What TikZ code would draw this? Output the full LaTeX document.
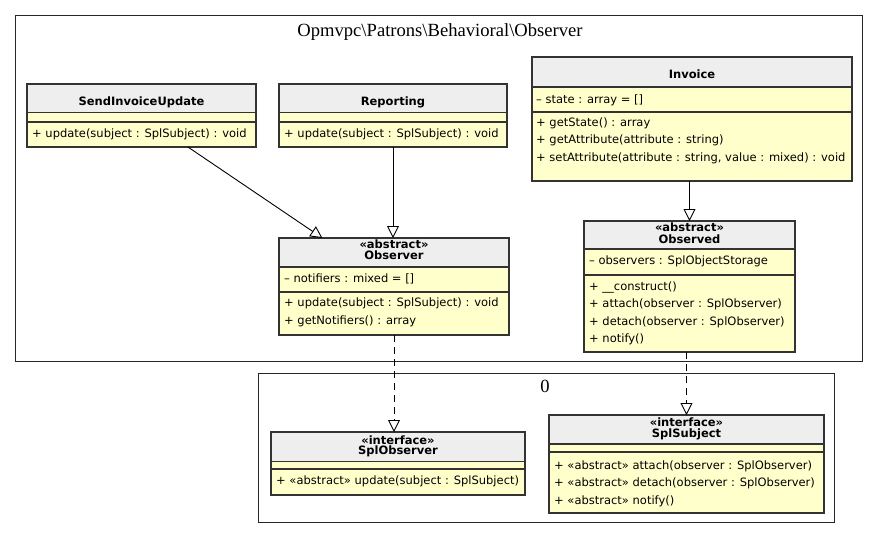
\documentclass[tikz,border=0pt]{standalone}
\usepackage{fontspec}
\usetikzlibrary{arrows.meta}
\newfontfamily\umlfont{DejaVu Sans}
\newfontfamily\pkgfont{Liberation Serif}
\definecolor{hdrgray}{HTML}{EEEEEE}
\definecolor{bodyyellow}{HTML}{FFFFCC}
\definecolor{borderdark}{HTML}{333333}
\tikzset{
  hdrpart/.style={draw=borderdark, line width=1.4pt, fill=hdrgray, inner sep=0pt, outer sep=0pt},
  bodypart/.style={draw=borderdark, line width=1.4pt, fill=bodyyellow, inner sep=0pt, outer sep=0pt},
  classoutline/.style={draw=borderdark, line width=1.4pt, inner sep=0pt, outer sep=0pt},
  pkgbox/.style={draw=black!85, line width=1pt, inner sep=0pt, outer sep=0pt},
  pkgtitle/.style={font=\pkgfont\fontsize{18.6}{20}\selectfont, inner sep=0pt, anchor=base},
  member/.style={font=\umlfont\fontsize{11.5}{13}\selectfont, inner sep=0pt, anchor=west, text height=8.5pt, text depth=2.5pt},
  clsname/.style={font=\umlfont\bfseries\fontsize{11.5}{13}\selectfont, inner sep=0pt, anchor=center, text height=8.5pt, text depth=2.5pt},
  generalize/.style={draw=black, line width=0.9pt, -{Triangle[open, length=12pt, width=12pt]}},
  realize/.style={generalize, dash pattern=on 7pt off 5pt}
}
\newcommand\umlbox[7]{%
  \pgfmathsetmacro\ubw{#3-#2}%
  \pgfmathsetmacro\ubcx{(#2+#3)/2}%
  \pgfmathsetmacro\ubha{#5-#4}\pgfmathsetmacro\ubya{(#4+#5)/2}%
  \pgfmathsetmacro\ubhb{#6-#5}\pgfmathsetmacro\ubyb{(#5+#6)/2}%
  \pgfmathsetmacro\ubhc{#7-#6}\pgfmathsetmacro\ubyc{(#6+#7)/2}%
  \pgfmathsetmacro\ubhd{#7-#4}\pgfmathsetmacro\ubyd{(#4+#7)/2}%
  \node[hdrpart, minimum width=\ubw pt, minimum height=\ubha pt] (#1-h) at (\ubcx,\ubya) {};
  \node[bodypart, minimum width=\ubw pt, minimum height=\ubhb pt] (#1-a) at (\ubcx,\ubyb) {};
  \node[bodypart, minimum width=\ubw pt, minimum height=\ubhc pt] (#1-m) at (\ubcx,\ubyc) {};
  \node[classoutline, minimum width=\ubw pt, minimum height=\ubhd pt] (#1) at (\ubcx,\ubyd) {};
}
\begin{document}
\begin{tikzpicture}[x=1pt, y=-1pt]
\useasboundingbox[fill=white] (0,0) rectangle (879,539);

% packages
\node[pkgbox, minimum width=847pt, minimum height=346pt] (pkgmain) at (438.5,188) {};
\node[pkgtitle] (pkgmaintitle) at (440,36.7) {Opmvpc\textbackslash Patrons\textbackslash Behavioral\textbackslash Observer};
\node[pkgbox, minimum width=576pt, minimum height=149pt] (pkgzero) at (546,447.5) {};
\node[pkgtitle] (pkgzerotitle) at (545,392.5) {0};

% SendInvoiceUpdate
\umlbox{sendinv}{27}{256}{84}{112.5}{122}{147}
\node[clsname] (sendinv-n) at (141.5,102.5) {SendInvoiceUpdate};
\node[member] (sendinv-m1) at (32,134) {+ update(subject : SplSubject) : void};

% Reporting
\umlbox{reporting}{279}{507}{84}{112.5}{122}{147}
\node[clsname] (reporting-n) at (393,102.5) {Reporting};
\node[member] (reporting-m1) at (284,134) {+ update(subject : SplSubject) : void};

% Invoice
\umlbox{invoice}{532}{852}{57}{87}{112}{181}
\node[clsname] (invoice-n) at (692,75.5) {Invoice};
\node[member] (invoice-a1) at (536,100) {– state : array = []};
\node[member] (invoice-m1) at (536,123.5) {+ getState() : array};
\node[member] (invoice-m2) at (536,140.8) {+ getAttribute(attribute : string)};
\node[member] (invoice-m3) at (536,158.1) {+ setAttribute(attribute : string, value : mixed) : void};

% Observer
\umlbox{observer}{279}{509}{238}{267}{292}{335}
\node[clsname] (observer-s) at (394,245) {«abstract»};
\node[clsname] (observer-n) at (394,256.5) {Observer};
\node[member] (observer-a1) at (284,279.8) {– notifiers : mixed = []};
\node[member] (observer-m1) at (284,303.8) {+ update(subject : SplSubject) : void};
\node[member] (observer-m2) at (284,321.2) {+ getNotifiers() : array};

% Observed
\umlbox{observed}{584}{795}{221}{249}{275}{352}
\node[clsname] (observed-s) at (689.5,228.5) {«abstract»};
\node[clsname] (observed-n) at (689.5,240) {Observed};
\node[member] (observed-a1) at (589,261.2) {– observers : SplObjectStorage};
\node[member] (observed-m1) at (589,287.2) {+ \_\_construct()};
\node[member] (observed-m2) at (589,304.8) {+ attach(observer : SplObserver)};
\node[member] (observed-m3) at (589,322.2) {+ detach(observer : SplObserver)};
\node[member] (observed-m4) at (589,339.8) {+ notify()};

% SplObserver
\umlbox{splobserver}{271}{525}{432}{461.5}{469}{495}
\node[clsname] (splobserver-s) at (398,441) {«interface»};
\node[clsname] (splobserver-n) at (398,451.5) {SplObserver};
\node[member] (splobserver-m1) at (276,481.5) {+ «abstract» update(subject : SplSubject)};

% SplSubject
\umlbox{splsubject}{549}{824}{415}{444}{452}{513}
\node[clsname] (splsubject-s) at (686.5,423) {«interface»};
\node[clsname] (splsubject-n) at (686.5,434) {SplSubject};
\node[member] (splsubject-m1) at (554,466.5) {+ «abstract» attach(observer : SplObserver)};
\node[member] (splsubject-m2) at (554,483.8) {+ «abstract» detach(observer : SplObserver)};
\node[member] (splsubject-m3) at (554,501.2) {+ «abstract» notify()};

% connectors
\draw[generalize] (sendinv) -- (observer);
\draw[generalize] (reporting.south) -- (reporting.south |- observer.north);
\draw[generalize] (observed.north |- invoice.south) -- (observed.north);
\draw[realize] (observer.south) -- (observer.south |- splobserver.north);
\draw[realize] (splsubject.north |- observed.south) -- (splsubject.north);
\end{tikzpicture}
\end{document}
